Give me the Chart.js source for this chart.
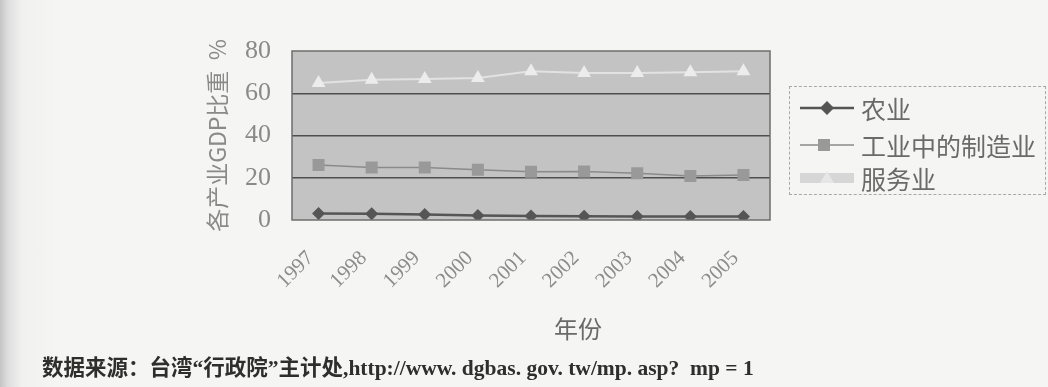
<!DOCTYPE html>
<html lang="zh-CN">
<head>
<meta charset="utf-8">
<title>各产业GDP比重</title>
<script src="https://cdn.jsdelivr.net/npm/chart.js@4.4.1/dist/chart.umd.min.js"></script>
<style>
  html, body { margin: 0; padding: 0; }
  body {
    width: 1048px; height: 387px; overflow: hidden; position: relative;
    background: linear-gradient(to right, #c4c4c4 0px, #dedede 8px, #f1f1ef 22px, #f5f5f3 60px);
  }
  #wrap { position: absolute; left: 0; top: 0; width: 1048px; height: 387px; }
  #legend {
    position: absolute; left: 789px; top: 86px; width: 257px; height: 109px;
    border: 1px dashed #a8a8a8; box-sizing: border-box;
    font-family: "Noto Sans CJK SC", sans-serif; font-size: 25px; color: #6a6a6a;
  }
  .item { position: absolute; left: 8px; height: 32px; display: flex; align-items: center; white-space: nowrap; }
  .item svg { width: 58px; height: 20px; margin-right: 5px; }
  #xtitle {
    position: absolute; left: 548px; top: 312px; width: 60px; text-align: center;
    font-family: "Noto Sans CJK SC", sans-serif; font-size: 24px; line-height: 32px; color: #6a6a6a;
  }
  #source {
    position: absolute; left: 42px; top: 354px; white-space: nowrap;
    font-family: "Liberation Serif", "Noto Sans CJK SC", serif; font-size: 21.5px;
    font-weight: 600; color: #2e2e2e; line-height: 28px;
  }
</style>
</head>
<body>
<div id="wrap"><canvas id="chart" width="1048" height="387"></canvas></div>
<div id="legend"></div>
<div id="xtitle">年份</div>
<div id="source">数据来源：台湾“行政院”主计处,http://www. dgbas. gov. tw/mp. asp?&nbsp; mp = 1</div>
<script>
// Years on the category axis
const years = ['1997', '1998', '1999', '2000', '2001', '2002', '2003', '2004', '2005'];

// Share of GDP by sector (%)
const agriculture = [3.1, 2.9, 2.6, 2.1, 1.9, 1.8, 1.7, 1.6, 1.6];
const manufacturing = [26.0, 24.9, 24.9, 23.8, 22.8, 23.0, 22.1, 20.8, 21.3];
const services = [64.8, 66.4, 66.7, 67.2, 70.4, 69.6, 69.6, 69.9, 70.4];

// Series names
const seriesNames = ['农业', '工业中的制造业', '服务业'];

// Value axis ticks
const yTicks = [0, 20, 40, 60, 80];

const serif = '"Liberation Serif", "DejaVu Serif", serif';
const cjk = '"Noto Sans CJK SC", sans-serif';

// Grey plot background with a dark frame
const plotFrame = {
  id: 'plotFrame',
  beforeDraw(chart) {
    const { ctx, chartArea: a } = chart;
    ctx.save();
    ctx.fillStyle = '#c3c3c3';
    ctx.fillRect(a.left, a.top, a.right - a.left, a.bottom - a.top);
    ctx.restore();
  },
  afterDraw(chart) {
    const { ctx, chartArea: a } = chart;
    ctx.save();
    ctx.strokeStyle = '#6e6e6e';
    ctx.lineWidth = 1.5;
    ctx.strokeRect(a.left, a.top, a.right - a.left, a.bottom - a.top);
    ctx.restore();
  }
};

const chart = new Chart(document.getElementById('chart'), {
  type: 'line',
  data: {
    labels: years,
    datasets: [
      {
        label: seriesNames[0], data: agriculture,
        borderColor: '#555555', backgroundColor: '#555555', borderWidth: 2.5,
        pointStyle: 'rectRot', pointRadius: 6.5, pointBorderWidth: 0, order: 1
      },
      {
        label: seriesNames[1], data: manufacturing,
        borderColor: '#8a8a8a', backgroundColor: '#999999', borderWidth: 1.5,
        pointStyle: 'rect', pointRadius: 8.5, pointBorderWidth: 0, order: 2
      },
      {
        label: seriesNames[2], data: services,
        borderColor: '#e2e2e2', backgroundColor: '#ececec', borderWidth: 2,
        pointStyle: 'triangle', pointRadius: 8, pointBorderWidth: 0, order: 3
      }
    ]
  },
  options: {
    responsive: false,
    animation: false,
    devicePixelRatio: 1,
    layout: { padding: { left: 197, right: 278, top: 51, bottom: 30 } },
    plugins: { legend: { display: false }, tooltip: { enabled: false } },
    elements: { line: { tension: 0 } },
    scales: {
      x: {
        offset: true,
        // short category-boundary ticks rising from the bottom edge
        grid: { display: true, drawOnChartArea: false, drawTicks: true, tickLength: -6, color: '#6e6e6e', lineWidth: 1 },
        border: { display: false },
        ticks: {
          font: { family: serif, size: 21 }, color: '#8c8c8c',
          minRotation: 45, maxRotation: 45, padding: 32, labelOffset: -8,
          autoSkip: false
        },
        afterFit(scale) { scale.height = 137; }
      },
      y: {
        min: 0, max: 80,
        afterBuildTicks(scale) { scale.ticks = yTicks.map(v => ({ value: v })); },
        grid: {
          drawTicks: false,
          color: ctx => (ctx.tick && ctx.tick.value > 0 && ctx.tick.value < 80) ? '#4e4e4e' : 'rgba(0,0,0,0)',
          lineWidth: 1.5
        },
        border: { display: false },
        ticks: { font: { family: serif, size: 26 }, color: '#8a8a8a', padding: 21 },
        title: {
          display: true, text: '各产业GDP比重  %',
          font: { family: cjk, size: 23 }, color: '#8a8a8a',
          padding: { top: 6, bottom: 0 }
        },
        afterFit(scale) { scale.width = 95; }
      }
    }
  },
  plugins: [plotFrame]
});

// Legend: line-and-marker symbols beside each series name
const legend = document.getElementById('legend');
const symbols = [
  '<line x1="2" y1="10" x2="56" y2="10" stroke="#555" stroke-width="2.5"/><polygon points="29,3 36,10 29,17 22,10" fill="#555"/>',
  '<line x1="2" y1="10" x2="56" y2="10" stroke="#8a8a8a" stroke-width="1.5"/><rect x="20" y="4" width="12" height="12" fill="#999"/>',
  '<rect x="2" y="5" width="54" height="10" fill="#d6d6d6"/><polygon points="29,3 36,15 22,15" fill="#e6e6e6"/>'
];
const rowTops = [5, 42, 75];
seriesNames.forEach((name, i) => {
  const row = document.createElement('div');
  row.className = 'item';
  row.style.top = rowTops[i] + 'px';
  row.innerHTML = '<svg viewBox="0 0 58 20">' + symbols[i] + '</svg><span>' + name + '</span>';
  legend.appendChild(row);
});
</script>
</body>
</html>
